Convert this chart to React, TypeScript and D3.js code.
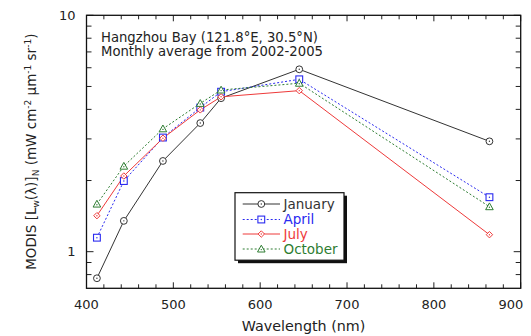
import React from "react";
import * as d3 from "d3";

const wavelengths = [412, 443, 488, 531, 555, 645, 864];
const january = [0.772, 1.35, 2.42, 3.5, 4.46, 5.91, 2.93];
const april = [1.146, 1.99, 3.04, 4.07, 4.75, 5.36, 1.7];
const july = [1.42, 2.09, 3.02, 3.98, 4.52, 4.8, 1.18];
const october = [1.59, 2.3, 3.31, 4.24, 4.83, 5.16, 1.55];
const seriesNames = ["January", "April", "July", "October"];
const xTicks = [400, 500, 600, 700, 800, 900];
const yTickLabels = [1, 10];

const W = 531, H = 336;
const M = { left: 86.5, right: 520.7, top: 15.3, bottom: 288.3 };
const FONT = "'DejaVu Sans', Verdana, sans-serif";

const colors = ["#333333", "#2a2af0", "#ee3a3a", "#2e7d32"];
const dashes = [null, "2,2", null, "2,2"];
const markers = ["circle", "square", "diamond", "triangle"];

function Marker({ type, x, y, color }: { type: string; x: number; y: number; color: string }) {
  const s = 3.4;
  let el;
  if (type === "circle") el = <circle cx={x} cy={y} r={s} fill="white" stroke={color} strokeWidth={1} />;
  else if (type === "square") el = <rect x={x - s} y={y - s} width={2 * s} height={2 * s} fill="white" stroke={color} strokeWidth={1.1} />;
  else if (type === "diamond") el = <path d={`M${x},${y - 3.2}L${x + 3.2},${y}L${x},${y + 3.2}L${x - 3.2},${y}Z`} fill="white" stroke={color} strokeWidth={1} />;
  else el = <path d={`M${x},${y - 3.8}L${x + 3.8},${y + 3}L${x - 3.8},${y + 3}Z`} fill="white" stroke={color} strokeWidth={1} />;
  return (
    <g>
      {el}
      <circle cx={x} cy={type === "triangle" ? y + 0.6 : y} r={0.7} fill={color} />
    </g>
  );
}

export default function App() {
  const x = d3.scaleLinear().domain([400, 900]).range([M.left, M.right]);
  const y = d3.scaleLog().domain([0.7, 10]).range([M.bottom, M.top]);
  const data = [january, april, july, october];
  const line = d3.line<number>().x((_, i) => x(wavelengths[i])).y((d) => y(d));

  const xMinor = d3.range(400, 901, 20);
  const yMinor = [0.8, 0.9, 2, 3, 4, 5, 6, 7, 8, 9];

  const legX = 235, legY = 192.7, legW = 109, legH = 67.5;
  const legRows = [204, 219.5, 234, 249];

  return (
    <svg width={W} height={H} style={{ position: "absolute", left: 0, top: 0, background: "white" }} fontFamily={FONT}>
      <rect width={W} height={H} fill="white" />
      {/* ticks */}
      <g stroke="#222" strokeWidth={1}>
        {xMinor.map((t) => {
          const major = t % 100 === 0;
          const len = major ? 6 : 4;
          return (
            <g key={t}>
              <line x1={x(t)} x2={x(t)} y1={M.bottom} y2={M.bottom - len} />
              <line x1={x(t)} x2={x(t)} y1={M.top} y2={M.top + len} />
            </g>
          );
        })}
        {yMinor.map((t) => (
          <g key={t}>
            <line x1={M.left} x2={M.left + 5} y1={y(t)} y2={y(t)} />
            <line x1={M.right} x2={M.right - 5} y1={y(t)} y2={y(t)} />
          </g>
        ))}
        {yTickLabels.map((t) => (
          <g key={t}>
            <line x1={M.left} x2={M.left + 7} y1={y(t)} y2={y(t)} />
            <line x1={M.right} x2={M.right - 7} y1={y(t)} y2={y(t)} />
          </g>
        ))}
      </g>
      <rect x={M.left} y={M.top} width={M.right - M.left} height={M.bottom - M.top} fill="none" stroke="#111" strokeWidth={1.3} />
      {/* tick labels */}
      <g fontSize={13} fill="#222">
        {xTicks.map((t) => (
          <text key={t} x={Math.min(x(t), 511)} y={309} textAnchor="middle">{t}</text>
        ))}
        {yTickLabels.map((t) => (
          <text key={t} x={M.left - 11} y={y(t) + 4.5} textAnchor="end">{t}</text>
        ))}
      </g>
      <text x={(M.left + M.right) / 2} y={331} textAnchor="middle" fontSize={14.3} fill="#222">Wavelength (nm)</text>
      <text transform={`translate(36,151.7) rotate(-90)`} textAnchor="middle" fontSize={13.5} fill="#222">
        MODIS [L<tspan fontSize={9} dy={3}>w</tspan><tspan dy={-3}>(λ)]</tspan>
        <tspan fontSize={9} dy={3}>N</tspan>
        <tspan dy={-3}> (mW cm</tspan><tspan fontSize={9} dy={-5}>-2</tspan>
        <tspan dy={5}> μm</tspan><tspan fontSize={9} dy={-5}>-1</tspan>
        <tspan dy={5}> sr</tspan><tspan fontSize={9} dy={-5}>-1</tspan>
        <tspan dy={5}>)</tspan>
      </text>
      {/* title */}
      <g fontSize={13.2} fill="#222">
        <text x={101} y={41.5}>Hangzhou Bay (121.8°E, 30.5°N)</text>
        <text x={101} y={56}>Monthly average from 2002-2005</text>
      </g>
      {/* series */}
      {data.map((vals, si) => (
        <g key={si}>
          <path d={line(vals) || ""} fill="none" stroke={colors[si]} strokeWidth={1} strokeDasharray={dashes[si] || undefined} />
        </g>
      ))}
      {data.map((vals, si) => (
        <g key={"m" + si}>
          {vals.map((v, i) => (
            <Marker key={i} type={markers[si]} x={x(wavelengths[i])} y={y(v)} color={colors[si]} />
          ))}
        </g>
      ))}
      {/* legend */}
      <rect x={legX + 3} y={legY + 3} width={legW} height={legH} fill="#111" />
      <rect x={legX} y={legY} width={legW} height={legH} fill="white" stroke="#111" strokeWidth={1.2} />
      {seriesNames.map((name, i) => (
        <g key={name}>
          <line x1={242.7} x2={280} y1={legRows[i]} y2={legRows[i]} stroke={colors[i]} strokeWidth={1} strokeDasharray={dashes[i] || undefined} />
          <Marker type={markers[i]} x={261.3} y={legRows[i]} color={colors[i]} />
          <text x={283.5} y={legRows[i] + 4.7} fontSize={13.5} fill={colors[i]}>{name}</text>
        </g>
      ))}
    </svg>
  );
}
